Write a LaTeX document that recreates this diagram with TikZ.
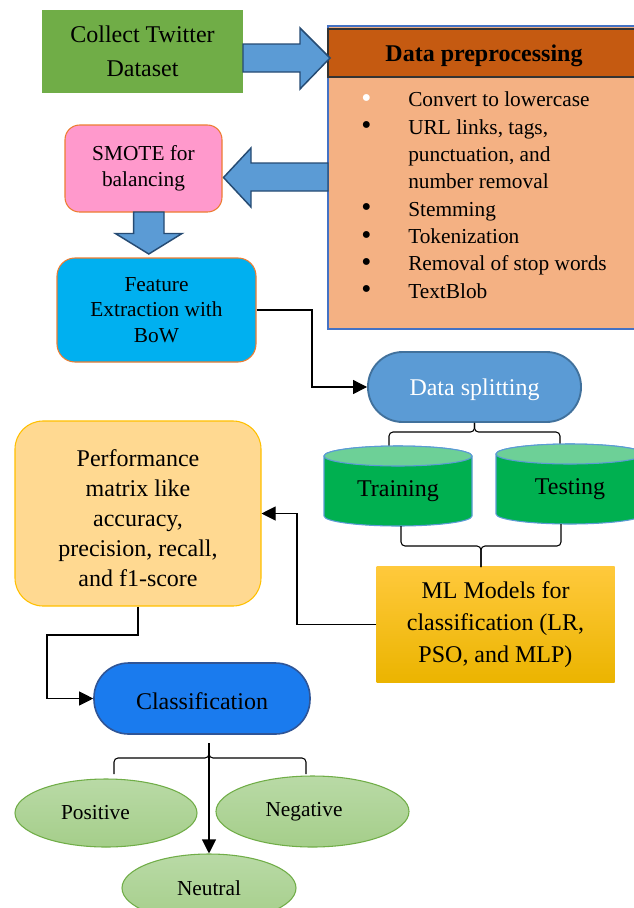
\documentclass[tikz,border=0pt]{standalone}
\usepackage{fontspec}
\setmainfont{Liberation Serif}
\usetikzlibrary{shapes.geometric,arrows.meta,calc}
\definecolor{cgreen}{HTML}{70AD47}
\definecolor{arrowfill}{HTML}{5B9BD5}
\definecolor{arrowedge}{HTML}{264B73}
\definecolor{prephead}{HTML}{C55A11}
\definecolor{prepbody}{HTML}{F4B183}
\definecolor{prepedge}{HTML}{4472C4}
\definecolor{spink}{HTML}{FF99CC}
\definecolor{sorange}{HTML}{ED7D31}
\definecolor{fcyan}{HTML}{00B0F0}
\definecolor{splitfill}{HTML}{5B9BD5}
\definecolor{splitedge}{HTML}{41719C}
\definecolor{perffill}{HTML}{FFD991}
\definecolor{perfedge}{HTML}{FFC000}
\definecolor{tgreen}{HTML}{00B050}
\definecolor{ttop}{HTML}{6DD097}
\definecolor{cylb}{HTML}{5B9BD5}
\definecolor{mltop}{HTML}{FFC93C}
\definecolor{mlbot}{HTML}{EBB400}
\definecolor{clsfill}{HTML}{1A7BEE}
\definecolor{clsedge}{HTML}{2F5597}
\definecolor{eedge}{HTML}{70AD47}
\definecolor{etop}{HTML}{B9DAA6}
\definecolor{ebot}{HTML}{A5CE8A}
\newcommand{\bul}{\raisebox{-0.5pt}{\scalebox{1.35}{\textbullet}}}
\begin{document}
\begin{tikzpicture}[x=0.75pt,y=-0.75pt,
  big/.style={font=\fontsize{18}{25.5}\selectfont},
  small/.style={font=\fontsize{16}{19.5}\selectfont},
  conn/.style={line width=0.8pt,-{Triangle[length=10.5pt,width=10.5pt]}},
  bracel/.style={line width=0.8pt,rounded corners=3pt},
  blockarrow/.style={fill=arrowfill,draw=arrowedge,line width=1.1pt,line join=miter},
  ell/.style={ellipse,draw=eedge,line width=0.8pt,top color=etop,bottom color=ebot,inner sep=0pt,font=\fontsize{16}{19}\selectfont}
]
\useasboundingbox (0,0) rectangle (634,908);
\clip (0,0) rectangle (634,908);
\fill[white] (0,0) rectangle (634,908);

% Collect Twitter Dataset
\node[big,fill=cgreen,minimum width=150.75pt,minimum height=62.25pt,inner sep=0pt,align=center] (collect) at (142.5,51.5) {Collect Twitter\\Dataset};

% Data preprocessing
\node[draw=prepedge,line width=0.8pt,fill=prepbody,minimum width=234pt,minimum height=227.25pt,inner sep=0pt] (prep) at (484,177.5) {};
\node[draw=black!80,line width=0.8pt,fill=prephead,minimum width=234pt,minimum height=36pt,inner sep=0pt] (head) at (484,53) {};
\node[font=\bfseries\fontsize{18}{22}\selectfont,inner sep=0pt] (headtxt) at (484,56) {Data preprocessing};
\node[anchor=base west,inner sep=0pt,font=\fontsize{16}{20.5}\selectfont] (list) at (361,106.7) {%
\begin{tabular}[t]{@{}p{35.25pt}@{}l@{}}
\textcolor{white}{\bul} & Convert to lowercase\\
\bul & URL links, tags,\\
 & punctuation, and\\
 & number removal\\
\bul & Stemming\\
\bul & Tokenization\\
\bul & Removal of stop words\\
\bul & TextBlob
\end{tabular}};

% block arrows
\draw[blockarrow] (243,44) -- (300,44) -- (300,28) -- (330,58) -- (300,89) -- (300,72) -- (243,72) -- cycle;
\draw[blockarrow] (328,163) -- (251,163) -- (251,148) -- (223.5,177.5) -- (251,207) -- (251,191) -- (328,191) -- cycle;

% SMOTE
\node[small,draw=sorange,line width=0.8pt,fill=spink,rounded corners=11pt,minimum width=117.75pt,minimum height=65.25pt,inner sep=0pt,align=center] (smote) at (143.5,168.5) {SMOTE for\\balancing};

\draw[blockarrow] (133.6,212) -- (164,212) -- (164,233.5) -- (182,233.5) -- (148.8,254) -- (115.4,233.5) -- (133.6,233.5) -- cycle;

% Feature extraction
\node[font=\fontsize{16}{19}\selectfont,draw=sorange,line width=0.8pt,fill=fcyan,rounded corners=13.5pt,minimum width=149.25pt,minimum height=78pt,inner sep=0pt,align=center] (feat) at (156.5,310) {Feature\\Extraction with\\BoW};

% Data splitting
\node[draw=splitedge,line width=1.4pt,fill=splitfill,rounded corners=26pt,minimum width=159.75pt,minimum height=52.5pt,inner sep=0pt] (split) at (474.5,387) {};
\node[big,text=white,inner sep=0pt] (splittxt) at (474.5,389.5) {Data splitting};

\draw[conn] (feat.east) -- (312,310) |- (split.west);

% upper brace
\coordinate (b1l) at (389,446);
\coordinate (b1r) at (560,446);
\coordinate (b1m) at (474.5,432);
\draw[bracel] (b1l) |- (b1m) -- (split.south);
\draw[bracel] (b1r) |- (b1m) -- (split.south);

% Training cylinder
\path[fill=tgreen,draw=cylb,line width=0.8pt] (324,456) -- (324,516) arc[start angle=180,end angle=360,x radius=55.5pt,y radius=7.5pt] -- (472,456) arc[start angle=0,end angle=180,x radius=55.5pt,y radius=7.5pt] -- cycle;
\filldraw[fill=ttop,draw=cylb,line width=0.8pt] (398,456) ellipse [x radius=55.5pt,y radius=7.5pt];
\node[big] (train) at (398,491) {Training};

% Testing cylinder
\path[fill=tgreen,draw=cylb,line width=0.8pt] (496,454) -- (496,514) arc[start angle=180,end angle=360,x radius=55.5pt,y radius=7.5pt] -- (644,454) arc[start angle=0,end angle=180,x radius=55.5pt,y radius=7.5pt] -- cycle;
\filldraw[fill=ttop,draw=cylb,line width=0.8pt] (570,454) ellipse [x radius=55.5pt,y radius=7.5pt];
\node[big] (test) at (570,489) {Testing};

% ML models
\node[font=\fontsize{18}{24}\selectfont,top color=mltop,bottom color=mlbot,minimum width=178.5pt,minimum height=86.6pt,inner sep=0pt,align=center] (ml) at (495.5,624.5) {ML Models for\\classification (LR,\\PSO, and MLP)};

% lower brace
\coordinate (b2l) at (401,526);
\coordinate (b2r) at (561,524);
\coordinate (b2m) at (481,546);
\coordinate (b2e) at (481,567);
\draw[bracel] (b2l) |- (b2m) -- (b2e);
\draw[bracel] (b2r) |- (b2m) -- (b2e);

% Performance
\node[draw=perfedge,line width=0.8pt,fill=perffill,rounded corners=21pt,minimum width=184.5pt,minimum height=138.75pt,inner sep=0pt] (perf) at (138,513.5) {};
\node[font=\fontsize{18}{22.5}\selectfont,inner sep=0pt,align=center] (perftxt) at (138,518) {Performance\\matrix like\\accuracy,\\precision, recall,\\and f1-score};

\draw[conn] (ml.west) -- (297,624.5) |- (perf.east);

% Classification
\node[draw=clsedge,line width=1.2pt,fill=clsfill,rounded corners=26pt,minimum width=162pt,minimum height=53.25pt,inner sep=0pt] (cls) at (202,698.5) {};
\node[big,inner sep=0pt] (clstxt) at (202,701) {Classification};

\coordinate (c1) at (47,635);
\draw[conn] (perf.south) |- (c1) |- (cls.west);

% result ellipses
\node[ell,minimum width=136.5pt,minimum height=51pt] (pos) at (106,813) {Positive\kern15.75pt};
\node[ell,minimum width=144.75pt,minimum height=53.25pt] (neg) at (312.5,811.5) {Negative\kern12.75pt};
\node[ell,minimum width=130.5pt,minimum height=51pt] (neu) at (209,888) {Neutral};

% classification brace and arrow
\coordinate (b3l) at (114,774);
\coordinate (b3r) at (306,774);
\coordinate (b3m) at (209,758);
\coordinate (b3t) at (209,751);
\draw[bracel] (b3l) |- (b3m) -- (b3t);
\draw[bracel] (b3r) |- (b3m) -- (b3t);
\coordinate (ca) at (209,743);
\draw[conn] (ca) -- (neu.north);

\end{tikzpicture}
\end{document}
